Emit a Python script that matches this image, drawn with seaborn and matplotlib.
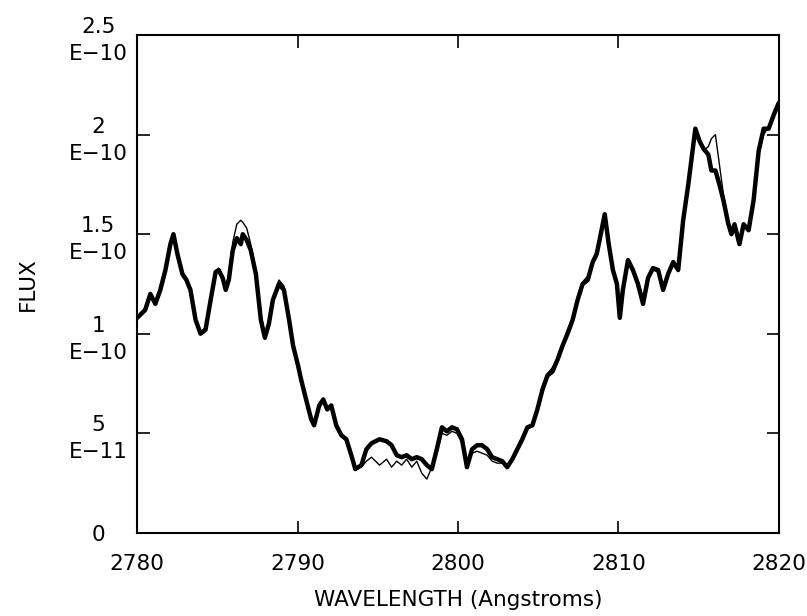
import numpy as np
import pandas as pd
import matplotlib
matplotlib.use("Agg")
import matplotlib.pyplot as plt
import seaborn as sns

# Wavelength samples (Angstroms)
wavelength = [2780.0, 2780.5, 2780.82, 2781.13, 2781.44, 2781.76, 2782.07, 2782.26, 2782.51, 2782.82,
              2783.07, 2783.32, 2783.64, 2783.95, 2784.26, 2784.58, 2784.89, 2785.08, 2785.33, 2785.52,
              2785.71, 2785.96, 2786.21, 2786.46, 2786.58, 2786.83, 2787.08, 2787.40, 2787.71, 2787.96,
              2788.21, 2788.46, 2788.84, 2789.15, 2789.47, 2789.72, 2790.03, 2790.22, 2790.53, 2790.85,
              2791.03, 2791.35, 2791.60, 2791.85, 2792.10, 2792.41, 2792.73, 2793.04, 2793.35, 2793.60,
              2793.98, 2794.29, 2794.61, 2795.11, 2795.55, 2795.86, 2796.18, 2796.49, 2796.80, 2797.12,
              2797.43, 2797.74, 2798.06, 2798.37, 2798.68, 2799.00, 2799.31, 2799.62, 2799.94, 2800.25,
              2800.56, 2800.88, 2801.19, 2801.50, 2801.82, 2802.13, 2802.45, 2802.76, 2803.07, 2803.39,
              2803.70, 2804.01, 2804.33, 2804.64, 2804.95, 2805.27, 2805.58, 2805.89, 2806.21, 2806.52,
              2806.83, 2807.15, 2807.46, 2807.77, 2808.09, 2808.40, 2808.65, 2808.90, 2809.15, 2809.40,
              2809.66, 2809.91, 2810.09, 2810.28, 2810.60, 2810.91, 2811.22, 2811.54, 2811.85, 2812.16,
              2812.48, 2812.79, 2813.10, 2813.42, 2813.73, 2814.04, 2814.36, 2814.55, 2814.80, 2815.05,
              2815.30, 2815.61, 2815.80, 2816.05, 2816.30, 2816.55, 2816.86, 2817.05, 2817.24, 2817.55,
              2817.81, 2818.12, 2818.43, 2818.75, 2819.06, 2819.37, 2819.69, 2820.0]

# Flux, units of 1e-10 (thick trace)
flux_thick = [1.08, 1.12, 1.20, 1.15, 1.22, 1.32, 1.45, 1.50, 1.40, 1.30,
              1.27, 1.22, 1.07, 1.00, 1.02, 1.17, 1.31, 1.32, 1.28, 1.22,
              1.27, 1.42, 1.48, 1.45, 1.50, 1.47, 1.42, 1.30, 1.07, 0.98,
              1.05, 1.17, 1.25, 1.22, 1.07, 0.94, 0.84, 0.77, 0.67, 0.57,
              0.54, 0.64, 0.67, 0.62, 0.64, 0.54, 0.49, 0.47, 0.39, 0.32,
              0.34, 0.42, 0.45, 0.47, 0.46, 0.44, 0.39, 0.38, 0.39, 0.37,
              0.38, 0.37, 0.34, 0.32, 0.42, 0.53, 0.51, 0.53, 0.52, 0.47,
              0.33, 0.42, 0.44, 0.44, 0.42, 0.38, 0.37, 0.36, 0.33, 0.37,
              0.42, 0.47, 0.53, 0.54, 0.62, 0.72, 0.79, 0.81, 0.87, 0.94,
              1.00, 1.07, 1.17, 1.25, 1.27, 1.36, 1.40, 1.50, 1.60, 1.45,
              1.32, 1.25, 1.08, 1.22, 1.37, 1.32, 1.25, 1.15, 1.28, 1.33,
              1.32, 1.22, 1.30, 1.36, 1.32, 1.57, 1.75, 1.87, 2.03, 1.97,
              1.93, 1.90, 1.82, 1.82, 1.75, 1.67, 1.55, 1.50, 1.55, 1.45,
              1.55, 1.52, 1.67, 1.92, 2.03, 2.03, 2.10, 2.16]

# Flux, units of 1e-10 (thin trace)
flux_thin = [1.08, 1.11, 1.18, 1.16, 1.21, 1.31, 1.44, 1.49, 1.41, 1.31,
             1.28, 1.21, 1.08, 1.01, 1.03, 1.16, 1.30, 1.33, 1.29, 1.23,
             1.30, 1.46, 1.55, 1.57, 1.56, 1.53, 1.45, 1.32, 1.08, 0.99,
             1.06, 1.18, 1.27, 1.24, 1.09, 0.95, 0.85, 0.78, 0.68, 0.58,
             0.56, 0.65, 0.66, 0.63, 0.63, 0.55, 0.50, 0.46, 0.38, 0.33,
             0.33, 0.36, 0.38, 0.34, 0.37, 0.33, 0.36, 0.34, 0.37, 0.33,
             0.36, 0.30, 0.27, 0.33, 0.40, 0.50, 0.49, 0.51, 0.50, 0.45,
             0.35, 0.40, 0.41, 0.40, 0.39, 0.36, 0.35, 0.35, 0.34, 0.36,
             0.41, 0.46, 0.52, 0.55, 0.63, 0.74, 0.80, 0.83, 0.88, 0.95,
             1.02, 1.08, 1.18, 1.26, 1.29, 1.37, 1.42, 1.52, 1.57, 1.44,
             1.33, 1.27, 1.12, 1.23, 1.35, 1.31, 1.27, 1.18, 1.27, 1.32,
             1.31, 1.24, 1.29, 1.35, 1.33, 1.58, 1.76, 1.88, 2.01, 1.96,
             1.92, 1.94, 1.98, 2.00, 1.85, 1.70, 1.57, 1.52, 1.53, 1.47,
             1.54, 1.53, 1.68, 1.90, 2.00, 2.04, 2.09, 2.15]

x_ticks = [2780, 2790, 2800, 2810, 2820]
y_ticks = [0, 0.5, 1.0, 1.5, 2.0, 2.5]
y_tick_labels = ["0", "5\nE\u221211", "1\nE\u221210", "1.5\nE\u221210", "2\nE\u221210", "2.5\nE\u221210"]

sns.set_style("ticks")
plt.rcParams['font.family'] = ['DejaVu Sans']
plt.rcParams['text.color'] = 'black'
plt.rcParams['axes.labelcolor'] = 'black'

df = pd.DataFrame({"wavelength": wavelength,
                   "thick": np.array(flux_thick) * 1e-10,
                   "thin": np.array(flux_thin) * 1e-10})

fig = plt.figure(figsize=(8.07, 6.16), dpi=100)
ax = fig.add_axes([0.170, 0.135, 0.795, 0.808])

sns.lineplot(data=df, x="wavelength", y="thin", ax=ax, color="black", linewidth=1.0,
             estimator=None, sort=False)
sns.lineplot(data=df, x="wavelength", y="thick", ax=ax, color="black", linewidth=3.2,
             estimator=None, sort=False)

ax.set_xlim(2780, 2820)
ax.set_ylim(0, 2.5e-10)
ax.set_xticks(x_ticks)
ax.set_xticklabels([str(t) for t in x_ticks])
ax.set_yticks([v * 1e-10 for v in y_ticks])
ax.set_yticklabels(y_tick_labels)
for lab in ax.get_yticklabels():
    lab.set_multialignment("center")
    lab.set_horizontalalignment("center")
    lab.set_linespacing(1.45)

ax.tick_params(direction="in", length=9, width=1.2, top=True, right=True,
               labelsize=15.5, colors="black")
ax.tick_params(axis="y", pad=28)
ax.tick_params(axis="x", pad=15)
for s in ax.spines.values():
    s.set_visible(True)
    s.set_linewidth(1.5)
    s.set_color("black")

ax.set_xlabel("WAVELENGTH (Angstroms)", fontsize=15.5, labelpad=12, color="black")
ax.set_ylabel("FLUX", fontsize=15.5, labelpad=22, color="black")

fig.savefig("out.png", dpi=100)
